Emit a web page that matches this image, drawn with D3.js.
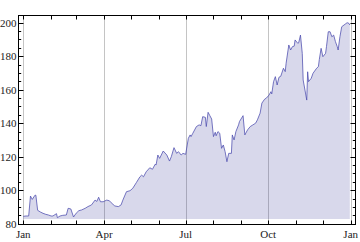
<!DOCTYPE html>
<html><head><meta charset="utf-8">
<script src="https://cdn.jsdelivr.net/npm/d3@7"></script>
<style>html,body{margin:0;padding:0;background:#fff;}svg{display:block;}</style>
</head><body>
<svg id="c" width="360" height="242"></svg>
<script>
// Day-of-year offsets (from Jan 1) and values
const dayOfYear = [
  0, 3, 6, 8, 10, 13, 14, 16, 19, 22,
  25, 28, 31, 33, 37, 38, 41, 44, 48, 50,
  53, 56, 59, 62, 65, 69, 72, 76, 80, 82,
  84, 86, 89, 93, 96, 98, 102, 106, 109, 111,
  115, 119, 122, 126, 130, 132, 134, 137, 141, 144,
  147, 148, 150, 152, 156, 160, 163, 165, 168, 171,
  173, 176, 178, 181, 184, 186, 187, 189, 193, 196,
  198, 200, 203, 204, 206, 208, 210, 212, 214, 215,
  217, 219, 221, 223, 225, 227, 229, 232, 233, 235,
  237, 240, 241, 245, 247, 250, 253, 256, 259, 261,
  264, 266, 269, 271, 274, 276, 277, 279, 281, 283,
  285, 287, 290, 292, 293, 296, 298, 300, 302, 303,
  306, 307, 309, 311, 312, 314, 316, 317, 318, 321,
  323, 327, 329, 330, 332, 334, 337, 338, 340, 342,
  344, 346, 348, 350, 351, 353, 355, 359, 361, 363, 364
];
const values = [
  84.4, 84.6, 84.6, 96.5, 94.5, 97, 97, 88, 87, 86.2,
  85.6, 85.2, 84.6, 84.6, 86, 83.6, 84.6, 85, 85.2, 89.2,
  88.8, 84, 86.3, 87.8, 88.2, 89.2, 90.2, 91.2, 94.1, 93.3,
  95.8, 93.1, 93.1, 94.1, 93.7, 92.5, 90.6, 90.2, 91.2, 94.1,
  99.1, 99.7, 101.1, 104.5, 108, 109, 108, 111, 113.4, 112.5,
  115.5, 115, 121, 119, 123.4, 121, 117.4, 120, 125.4, 122,
  123, 121, 122, 121.4, 131, 133, 132, 134, 138, 139,
  138.5, 143.9, 143.5, 138, 146.5, 144.5, 142.5, 132, 134.6, 132.5,
  135, 134, 125, 127, 123, 117, 122, 122, 133, 130,
  135, 139, 141, 144.5, 133, 136, 138, 139, 140, 142,
  146, 152, 154.3, 155, 156.8, 158.8, 157.5, 164.8, 167.8, 162.8,
  167.4, 168, 172.8, 170.8, 175.8, 186.7, 183.7, 185.7, 186, 189.7,
  187.7, 188, 192.6, 181.7, 165.8, 159.8, 153.8, 170.7, 164.8, 166.8,
  169.8, 172.8, 173.8, 178, 184.7, 179.7, 181.7, 185.7, 194.6, 194.6,
  191.6, 192.6, 188.7, 185.7, 183.7, 191.6, 197.6, 199.2, 200, 199.6, 198.6
];
const year = 2013;
const yTickValues = [80, 100, 120, 140, 160, 180, 200];
const xLabelMonths = ["Jan", "Apr", "Jul", "Oct", "Jan"];
const fillBase = 82.8;

const start = new Date(year, 0, 1), end = new Date(year + 1, 0, 1);
const data = dayOfYear.map((d, i) => ({ date: d3.timeDay.offset(start, d), v: values[i] }));

const svg = d3.select("#c");
const x = d3.scaleTime().domain([start, end]).range([23.3, 350.7]);
const y = d3.scaleLinear().domain([80, 200]).range([223.7, 22.7]);
const L = 18.5, R = 355.5, T = 15.5, B = 224.5;

// gridlines at quarter starts
const quarters = d3.timeMonth.every(3).range(start, d3.timeDay.offset(end, 1));
svg.append("g").selectAll("line").data(quarters).join("line")
  .attr("x1", d => Math.round(x(d)) + 0.5).attr("x2", d => Math.round(x(d)) + 0.5)
  .attr("y1", T).attr("y2", B).attr("stroke", "#c4c4c4").attr("stroke-width", 1);

// area fill
const area = d3.area().x(d => x(d.date)).y0(y(fillBase)).y1(d => y(d.v));
svg.append("path").datum(data).attr("d", area)
  .attr("fill", "rgb(61,61,153)").attr("fill-opacity", 0.2);
const line = d3.line().x(d => x(d.date)).y(d => y(d.v));
svg.append("path").datum(data).attr("d", line)
  .attr("fill", "none").attr("stroke", "#4b4bad").attr("stroke-width", 0.75);

// frame
svg.append("rect").attr("x", L).attr("y", T).attr("width", R - L).attr("height", B - T)
  .attr("fill", "none").attr("stroke", "#000").attr("stroke-width", 1);

// axes ticks
const months = d3.timeMonth.range(start, d3.timeDay.offset(end, 1));
const minorY = d3.range(80, 201, 5);
const g = svg.append("g").attr("stroke", "#000").attr("stroke-width", 1);
months.forEach(m => {
  const px = Math.round(x(m)) + 0.5;
  g.append("line").attr("x1", px).attr("x2", px).attr("y1", B).attr("y2", B - 4);
  g.append("line").attr("x1", px).attr("x2", px).attr("y1", T).attr("y2", T + 4);
});
minorY.forEach(v => {
  const major = v % 20 === 0;
  const len = major ? 5 : 2.7;
  const py = Math.round(y(v)) + 0.5;
  g.append("line").attr("x1", L).attr("x2", L + len).attr("y1", py).attr("y2", py);
  g.append("line").attr("x1", R).attr("x2", R - len).attr("y1", py).attr("y2", py);
});

// labels
const font = "'Liberation Serif','DejaVu Serif',serif";
svg.append("g").selectAll("text").data(yTickValues).join("text")
  .attr("x", 16.5).attr("y", d => y(d) + 3.8).attr("text-anchor", "end")
  .attr("font-family", font).attr("font-size", 11).attr("fill", "#222").text(d => d);
svg.append("g").selectAll("text").data(quarters).join("text")
  .attr("x", d => x(d)).attr("y", 238).attr("text-anchor", "middle")
  .attr("font-family", font).attr("font-size", 11).attr("fill", "#222")
  .text((d, i) => xLabelMonths[i]);
</script>
</body></html>
